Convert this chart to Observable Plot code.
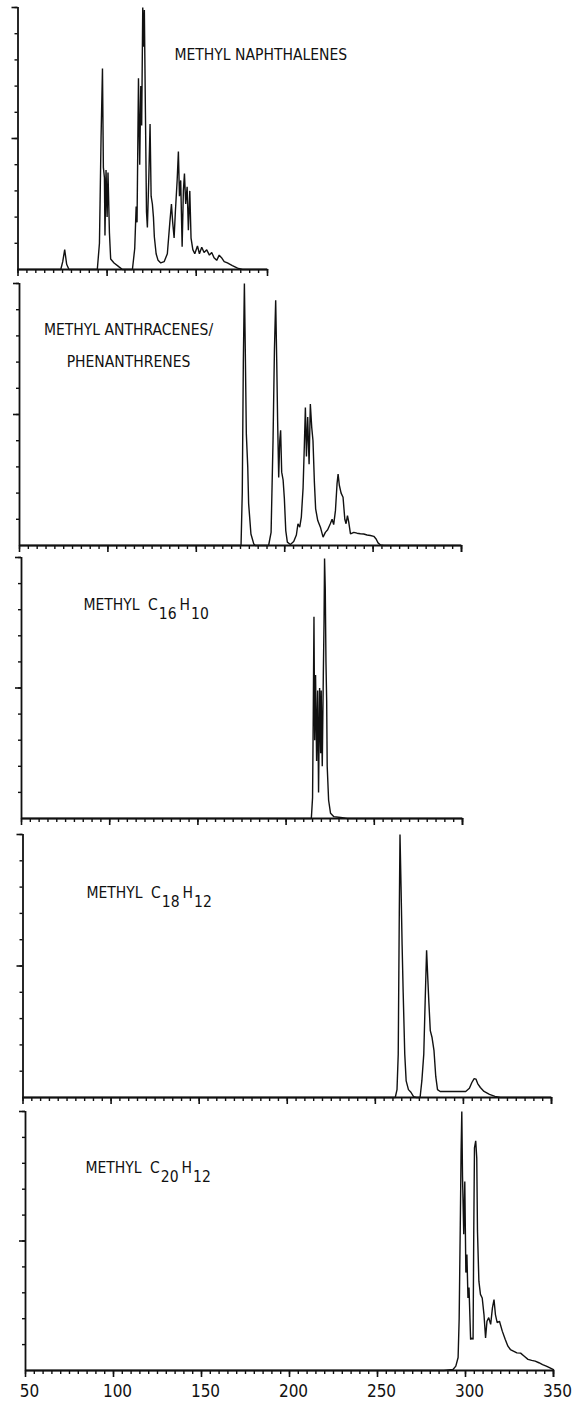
<!DOCTYPE html>
<html>
<head>
<meta charset="utf-8">
<script src="https://cdn.jsdelivr.net/npm/d3@7"></script>
<script src="https://cdn.jsdelivr.net/npm/@observablehq/plot@0.6"></script>
<style>
  html, body { margin: 0; padding: 0; background: #fff; }
  #chart { position: relative; width: 573px; height: 1407px; background: #fff; overflow: hidden; }
  #chart svg { position: absolute; left: 0; }
</style>
</head>
<body>
<div id="chart"></div>
<script>
// ---- data ----
const xTickLabels = [50, 100, 150, 200, 250, 300, 350];
const titles = [
  "METHYL NAPHTHALENES",
  "METHYL ANTHRACENES/\nPHENANTHRENES",
  "METHYL C16H10",
  "METHYL C18H12",
  "METHYL C20H12"
];
const xEnds = [190, 300, 300, 350, 350];

const naphthalenes = [[50,0],[74,0],[75.1,3],[76.2,7.6],[77.3,2],[78.6,0],[94.5,0],[95.7,10],[96.6,50],[97.4,76.7],[97.9,39],[98.5,35],[98.8,13],[99.4,38],[100,20],[100.5,37],[101.3,14],[102,4],[103.9,2.5],[106.7,1],[108.6,0],[114.2,0],[115.5,8],[116.3,24],[116.8,18],[117.6,73],[118.3,40],[118.9,70],[119.4,55],[120,100],[120.6,85],[120.9,99],[121.5,60],[122.1,22],[122.6,16],[123.4,35],[124.1,55.5],[124.7,28],[125.4,25],[126,20],[126.5,12.5],[127.5,6],[128.6,3.5],[130.1,2.5],[132,3],[133.8,6],[135.2,18],[136.1,25],[136.8,18],[137.6,12],[138.3,22],[139.3,34],[140,45],[140.6,28],[141.3,34],[142.1,8.7],[142.8,30],[143.4,36.6],[144.1,25],[144.9,31.6],[145.6,15],[146.4,30],[147.1,12],[148.1,7.6],[149.2,6],[150.7,9],[151.8,6],[153.1,8.5],[154.4,6.5],[155.9,7.5],[157.4,5.5],[158.7,6.5],[160,4.5],[161.5,3.5],[162.9,5.5],[164.2,4.5],[165.7,3],[167.5,2.5],[170.3,1.5],[173.2,0.5],[176,0],[190,0]];

const anthracenes = [[50,0],[175.3,0],[176,20],[176.6,70],[177.2,100],[177.7,75],[178.3,42.6],[179.1,30],[179.6,16],[180.9,4.4],[182.5,0.6],[183.4,0],[190.9,0],[192.3,5],[193.4,40],[194.2,75],[194.9,93.6],[195.5,70],[196,47.6],[196.6,26],[197.2,40],[197.7,44],[198.3,28],[199.1,25],[199.8,18],[200.6,5.7],[201.5,1.3],[203.2,0.4],[205.1,1.5],[206.6,4],[207.5,8.3],[208.5,7],[209.4,10.8],[210.4,22],[211.1,38],[211.7,52.7],[212.3,34],[213,49],[213.8,31],[214.5,54],[215.3,45],[216,40],[216.8,24],[217.5,14],[218.7,9.5],[220.2,7],[221.7,3.2],[223,5],[224.3,6],[225.8,8.3],[226.8,10],[227.7,8],[228.7,13.3],[229.6,23.5],[230.2,27.3],[230.9,23],[231.9,20],[233,18.4],[234,10],[234.7,8.3],[235.5,11.4],[236.2,9],[237.2,4.4],[239.1,5],[240.9,4.7],[242.8,4.5],[244.7,4.4],[246.6,4],[248.5,3.8],[250.4,3.5],[251.7,2.5],[252.8,1],[254.2,0.2],[256,0],[300,0]];

const c16h10 = [[50,0],[214.3,0],[215,8],[215.4,40],[215.8,77.3],[216.2,30],[216.7,55],[217.3,22],[217.9,49],[218.4,10],[219,50],[219.6,25],[219.9,49],[220.5,20],[221.1,55],[221.5,75],[221.8,99.6],[222.2,88],[222.6,60],[223,45],[223.3,20],[224.1,7],[225.2,2],[227.1,0.7],[230.9,0.4],[234.7,0],[300,0]];

const c18h12 = [[50,0],[261.3,0],[262.3,3],[263,16.5],[263.6,70],[264,100],[264.6,80],[265.2,58],[265.8,40],[266.7,16.5],[267.5,6.3],[268.8,3],[270.2,2],[271.7,0.3],[273.3,0],[275.4,0],[276.4,6.3],[277.5,16.5],[278.3,37],[279.1,56],[279.8,45],[280.4,36],[281.2,25.4],[282.2,22.8],[283.3,17.8],[284.3,8],[285.3,3],[286.8,2.3],[294,2.3],[301.3,2.3],[303.4,3.5],[304.8,5.7],[306.1,7.2],[307.1,7],[308.1,5.3],[309.6,3.8],[311.7,2.3],[314.8,1.2],[317.9,0.4],[321,0],[350,0]];

const c20h12 = [[50,0],[287.7,0],[292.9,0.4],[294.5,1.7],[295.8,5],[296.4,20],[297.1,60],[297.5,85],[297.9,100],[298.3,75],[299,52.6],[299.6,73],[300.2,37.8],[300.8,44.8],[301.4,28],[302,32],[302.9,12],[303.7,12.5],[304.3,12],[304.7,54],[305.1,86],[305.8,88.7],[306.4,82],[306.8,54],[307.6,34.5],[308.5,29.4],[309.5,28],[310.5,21.6],[311.4,12.6],[312.2,19],[313.2,20.4],[314.3,17.8],[315.3,24.2],[316.2,27.4],[317,21.6],[318,18.5],[319.3,19],[320.9,15.2],[322.6,12],[324.1,9.4],[325.5,8.1],[327.2,7.5],[329.2,6.8],[331.3,6.7],[333.4,5.5],[335.5,4.3],[337.6,3.9],[339.6,3.6],[341.7,3],[343.8,2.3],[345.9,1.7],[348,1],[350,0.3]];

const series = [naphthalenes, anthracenes, c16h10, c18h12, c20h12];

// ---- layout (pixels) ----
const W = 573;
const frames = [
  {left: 17.5, right: 267, top: 7,    bottom: 269,  tx: 174, ty: 30, anchor: "start",  fs: 15.5},
  {left: 19,   right: 461, top: 283,  bottom: 545,  tx: 128, ty: 29, anchor: "middle", fs: 15.5},
  {left: 21,   right: 462, top: 557,  bottom: 818,  tx: 83,  ty: 30, anchor: "start",  fs: 15.5},
  {left: 22.5, right: 551, top: 834,  bottom: 1097, tx: 86,  ty: 41, anchor: "start",  fs: 15.5},
  {left: 25,   right: 553, top: 1111, bottom: 1370, tx: 85,  ty: 39, anchor: "start",  fs: 15.5}
];
const FONT = '"DejaVu Sans Condensed", "DejaVu Sans", sans-serif';
const INK = "#111";
const SVGNS = "http://www.w3.org/2000/svg";

const chart = document.getElementById("chart");

series.forEach((pts, i) => {
  const f = frames[i];
  const last = i === series.length - 1;
  const xEnd = xEnds[i];
  const mt = 4, mb = last ? 36 : 10;
  const data = pts.map(([x, y]) => ({x, y}));
  const minorX = d3.range(50, xEnd + 0.1, 5);
  const majorX = xTickLabels.filter(v => v <= xEnd);
  const minorY = d3.range(10, 100.1, 10);
  const majorY = [50, 100];
  const noText = () => "";

  const svg = Plot.plot({
    width: W,
    height: (f.bottom - f.top) + mt + mb,
    marginLeft: f.left,
    marginRight: W - f.right,
    marginTop: mt,
    marginBottom: mb,
    x: {domain: [50, xEnd], axis: null},
    y: {domain: [0, 100], axis: null},
    style: {background: "transparent", overflow: "visible", fontFamily: FONT, fontStretch: "condensed", color: INK},
    marks: [
      Plot.axisY(minorY, {tickSize: 3, tickFormat: noText, label: null, stroke: INK, strokeWidth: 1.4}),
      Plot.axisY(majorY, {tickSize: 6, tickFormat: noText, label: null, stroke: INK, strokeWidth: 1.6}),
      Plot.axisX(minorX, {tickSize: 4, tickFormat: noText, label: null, stroke: INK, strokeWidth: 1.4}),
      Plot.axisX(majorX, {tickSize: 7, tickFormat: noText, label: null, stroke: INK, strokeWidth: 1.6}),
      Plot.axisX([xEnd], {tickSize: 7, tickFormat: noText, label: null, stroke: INK, strokeWidth: 1.6}),
      last ? Plot.axisX(xTickLabels, {tickSize: 0, tickPadding: 14, fontSize: 17, dx: 4, label: null, tickFormat: d => String(d), fill: INK}) : null,
      Plot.ruleX([50], {y1: 0, y2: 100, stroke: INK, strokeWidth: 1.8}),
      Plot.ruleY([0], {x1: 50, x2: xEnd, stroke: INK, strokeWidth: 1.8}),
      Plot.line(data, {x: "x", y: "y", stroke: INK, strokeWidth: 1.4, strokeLinejoin: "miter"}),
      Plot.text([titles[i]], {
        frameAnchor: "top-left", dx: f.tx - f.left, dy: f.ty,
        textAnchor: f.anchor, lineAnchor: "top", lineHeight: 2.05,
        fontSize: f.fs, fill: INK
      })
    ]
  });
  svg.style.top = (f.top - mt) + "px";
  chart.appendChild(svg);

  // chemical formula subscripts
  if (/\d/.test(titles[i])) {
    svg.querySelectorAll('g[aria-label="text"] text').forEach(t => {
      if (t.textContent !== titles[i]) return;
      t.textContent = "";
      const add = (s, attrs) => {
        const ts = document.createElementNS(SVGNS, "tspan");
        Object.entries(attrs).forEach(([k, v]) => ts.setAttribute(k, v));
        ts.textContent = s;
        t.appendChild(ts);
      };
      const parts = titles[i].split(/(\d+)/).filter(s => s.length);
      let lowered = false;
      parts.forEach((p, k) => {
        const isSub = /^\d+$/.test(p);
        if (k === 0 && p.includes(" ")) {
          const j = p.lastIndexOf(" ");
          add(p.slice(0, j + 1), {});
          add(p.slice(j + 1), {dx: 4});
        } else if (isSub) {
          add(p, lowered ? {} : {dy: "0.6em", dx: 1});
          lowered = true;
        } else {
          add(p, lowered ? {dy: "-0.6em", dx: 3} : {});
          lowered = false;
        }
      });
    });
  }
});
</script>
</body>
</html>
